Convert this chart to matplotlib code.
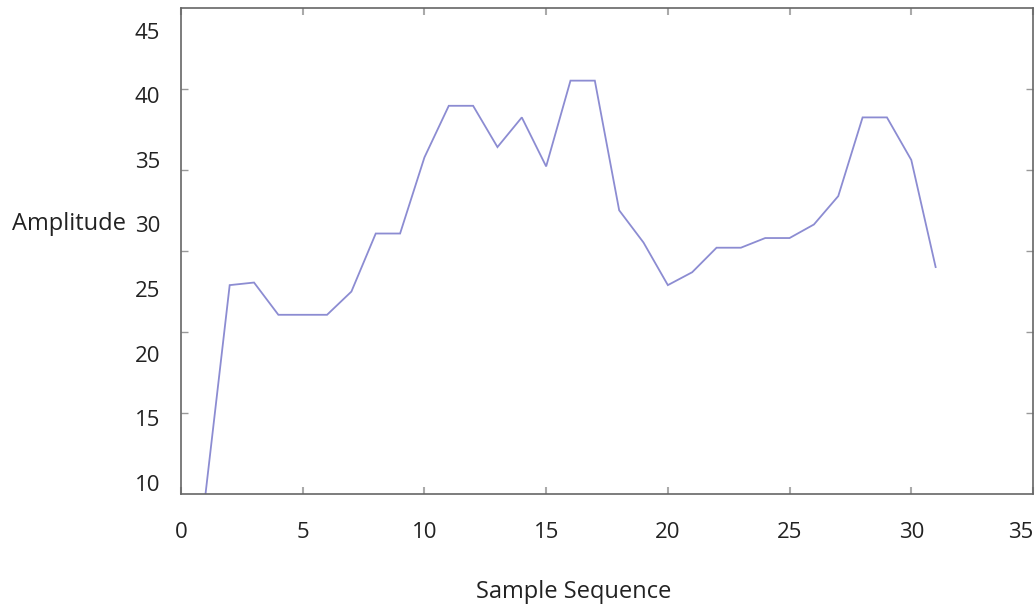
import numpy as np
import matplotlib
matplotlib.use("Agg")
import matplotlib.pyplot as plt

# Data
sample = list(range(1, 32))
amplitude = [9.0, 25.3, 25.5, 23.0, 23.0, 23.0, 24.8, 29.3, 29.3, 35.2,
             39.2, 39.2, 36.0, 38.3, 34.5, 41.15, 41.15, 31.1, 28.6, 25.3,
             26.3, 28.2, 28.2, 28.95, 28.95, 30.0, 32.2, 38.3, 38.3, 35.0, 26.7]
x_ticks = [0, 5, 10, 15, 20, 25, 30, 35]
y_labels = [10, 15, 20, 25, 30, 35, 40, 45]

plt.rcParams['font.family'] = ['Open Sans', 'DejaVu Sans']
FS = 16

fig = plt.figure(figsize=(10.36, 6.05), dpi=100)
ax = fig.add_axes([181/1036, 111/605, (1033-181)/1036, (494-8)/605])

ax.plot(sample, amplitude, color='#8c8cd2', lw=1.3, solid_joinstyle='miter')

ylim = (9.11, 46.78)
ax.set_xlim(0, 34.93)
ax.set_ylim(*ylim)

ax.set_xticks(x_ticks)
ax.set_xticklabels([str(t) for t in x_ticks])
ax.tick_params(axis='x', which='major', direction='in', length=5, width=1.5,
               color='#aaaaaa', top=True, bottom=True, pad=20, labelsize=FS,
               labelcolor='#222222')
last = ax.get_xticklabels()[-1]
last.set_horizontalalignment('right')

ax.set_yticks(y_labels)
ax.set_yticklabels([str(t) for t in y_labels])
ax.tick_params(axis='y', which='major', length=0, pad=15, labelsize=FS,
               labelcolor='#222222')
ax.set_yticks(np.linspace(ylim[0], ylim[1], 7)[1:-1], minor=True)
ax.tick_params(axis='y', which='minor', direction='in', length=5, width=1,
               color='#999999', left=True, right=True)

for s in ax.spines.values():
    s.set_color('#666666')
    s.set_linewidth(1.2)

ax.set_ylabel('Amplitude', rotation=0, fontsize=17, color='#222222')
ax.yaxis.set_label_coords((12 - 181) / (1033 - 181), (30 - ylim[0]) / (ylim[1] - ylim[0]))
ax.yaxis.label.set_va('center')
ax.yaxis.label.set_ha('left')
ax.set_xlabel('Sample Sequence', fontsize=17, color='#222222')
ax.xaxis.set_label_coords((574 - 181) / (1033 - 181), -(592 - 494) / 486)
ax.xaxis.label.set_va('center')

fig.savefig('out.png', dpi=100, facecolor='white')
